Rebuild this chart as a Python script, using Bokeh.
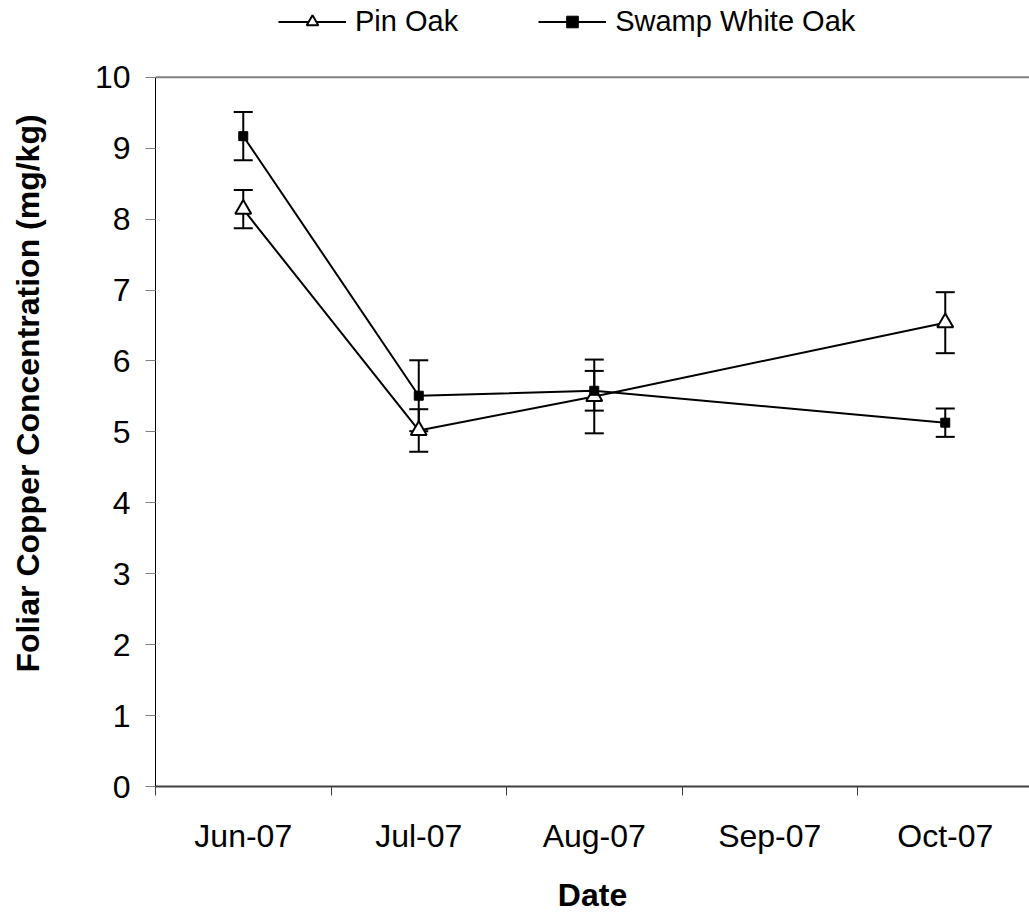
from bokeh.plotting import figure
from bokeh.models import (ColumnDataSource, FixedTicker, Whisker, TeeHead, Span,
                          Legend, LegendItem, Range1d)
from bokeh.embed import file_html
from bokeh.resources import INLINE

# Months shown on the date axis (each month is one unit wide)
months = ["Jun-07", "Jul-07", "Aug-07", "Sep-07", "Oct-07"]

# Sampling dates
sample_months = ["Jun-07", "Jul-07", "Aug-07", "Oct-07"]

# Foliar Cu (mg/kg): mean and standard error
pin_mean = [8.14, 5.02, 5.50, 6.54]
pin_se = [0.27, 0.30, 0.52, 0.43]
swo_mean = [9.17, 5.51, 5.58, 5.13]
swo_se = [0.34, 0.50, 0.28, 0.20]

y_ticks = [0, 1, 2, 3, 4, 5, 6, 7, 8, 9, 10]
y_max = 10

FONT = "Liberation Sans"
x_pos = [months.index(m) + 0.5 for m in sample_months]


def make_source(mean, se):
    return ColumnDataSource(dict(
        x=x_pos, y=mean,
        upper=[m + s for m, s in zip(mean, se)],
        lower=[m - s for m, s in zip(mean, se)],
    ))


pin_src = make_source(pin_mean, pin_se)
swo_src = make_source(swo_mean, swo_se)

# the frame reaches the top of the page so the legend can sit above the
# 0-10 data area; the axes are bounded to that area
p = figure(width=1029, height=915, output_backend="svg", toolbar_location=None,
           x_range=Range1d(0, 4.98), y_range=Range1d(0, y_max * 788 / 711),
           min_border_left=155, min_border_right=0,
           min_border_top=0, min_border_bottom=127)
p.outline_line_color = None
p.grid.visible = False
p.background_fill_color = "white"
p.border_fill_color = "white"

# error bars
for src in (pin_src, swo_src):
    p.add_layout(Whisker(source=src, base="x", upper="upper", lower="lower",
                         line_color="black", line_width=2,
                         upper_head=TeeHead(size=19, line_color="black", line_width=2),
                         lower_head=TeeHead(size=19, line_color="black", line_width=2)))

# top border of the plot area
p.add_layout(Span(location=y_max, dimension="width", line_color="#808080", line_width=2))

pin_line = p.line("x", "y", source=pin_src, line_color="black", line_width=2)
pin_pts = p.scatter("x", "y", source=pin_src, marker="triangle", size=16,
                    fill_color="white", line_color="black", line_width=2)
swo_line = p.line("x", "y", source=swo_src, line_color="black", line_width=2)
swo_pts = p.scatter("x", "y", source=swo_src, marker="square", size=9,
                    fill_color="black", line_color="black", line_width=1)

# x axis: labels centred in each month, tick marks on month boundaries
p.xaxis.ticker = FixedTicker(ticks=[i + 0.5 for i in range(len(months))],
                             minor_ticks=list(range(len(months) + 1)))
p.xaxis.major_label_overrides = {i + 0.5: m for i, m in enumerate(months)}
p.xaxis.major_tick_line_color = None
p.xaxis.minor_tick_line_color = "#404040"
p.xaxis.minor_tick_out = 9
p.xaxis.minor_tick_in = 0
p.xaxis.axis_line_color = "#404040"
p.xaxis.axis_line_width = 2
p.xaxis.axis_label = "Date"
p.xaxis.major_label_standoff = 22
p.xaxis.axis_label_standoff = 20

p.yaxis.ticker = FixedTicker(ticks=y_ticks, minor_ticks=[])
p.yaxis.bounds = (0, y_max)
p.yaxis.major_tick_line_color = "#808080"
p.yaxis.major_tick_out = 10
p.yaxis.major_tick_in = 0
p.yaxis.axis_line_color = "black"
p.yaxis.axis_line_width = 1
p.yaxis.axis_label = "Foliar Copper Concentration (mg/kg)"
p.yaxis.major_label_standoff = 15
p.yaxis.axis_label_standoff = 46

for ax in (p.xaxis[0], p.yaxis[0]):
    ax.major_label_text_font = FONT
    ax.major_label_text_font_size = "32px"
    ax.major_label_text_color = "black"
    ax.axis_label_text_font = FONT
    ax.axis_label_text_font_size = "32px"
    ax.axis_label_text_font_style = "bold"
    ax.axis_label_text_color = "black"

legend = Legend(items=[LegendItem(label="Pin Oak", renderers=[pin_line, pin_pts]),
                       LegendItem(label="Swamp White Oak", renderers=[swo_line, swo_pts])],
                orientation="horizontal", location=(123, 748),
                glyph_width=68, glyph_height=29, label_standoff=9, spacing=80,
                padding=0, margin=0, border_line_color=None,
                background_fill_alpha=0,
                label_text_font=FONT, label_text_font_size="29px",
                label_text_color="black")
p.add_layout(legend)

open("out.html", "w").write(file_html(p, INLINE))
